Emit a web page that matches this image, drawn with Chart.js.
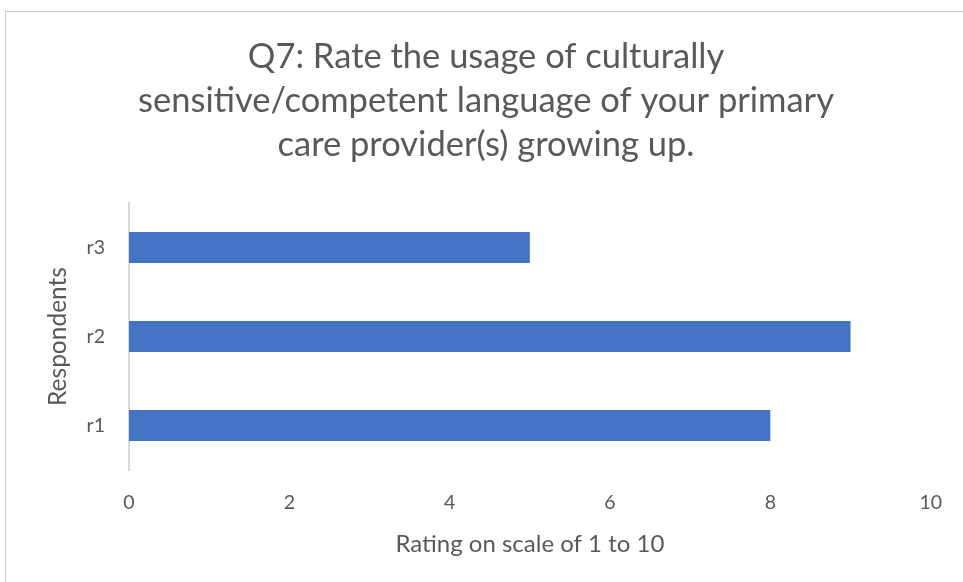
<!DOCTYPE html>
<html>
<head>
<meta charset="utf-8">
<script src="https://cdn.jsdelivr.net/npm/chart.js@4"></script>
<style>
  html, body { margin: 0; padding: 0; background: #fff; }
  #wrap { position: relative; width: 963px; height: 582px; overflow: hidden; }
  #frame { position: absolute; left: 5px; top: 11px; width: 980px; height: 600px;
           border-left: 1px solid #c8c8c8; border-top: 1px solid #c8c8c8; }
  canvas { position: absolute; left: 0; top: 0; }
</style>
</head>
<body>
<div id="wrap">
  <div id="frame"></div>
  <canvas id="chart" width="963" height="582"></canvas>
</div>
<script>
// ── Data ──────────────────────────────────────────────────────
const respondents = ['r3', 'r2', 'r1'];
const ratings     = [5, 9, 8];
const titleLines  = [
    'Q7: Rate the usage of culturally',
    'sensitive/competent language of your primary',
    'care provider(s) growing up.'
];

const FONT = "Lato, 'Open Sans', sans-serif";
const GREY = '#595959';

new Chart(document.getElementById('chart'), {
    type: 'bar',
    data: {
        labels: respondents,
        datasets: [{
            data: ratings,
            backgroundColor: '#4472C4',
            categoryPercentage: 1,
            barPercentage: 0.35,
        }],
    },
    options: {
        indexAxis: 'y',
        responsive: false,
        animation: false,
        layout: { padding: { left: 40, right: 31, top: 13, bottom: 22 } },
        plugins: {
            legend: { display: false },
            tooltip: { enabled: false },
            title: {
                display: true,
                text: titleLines,
                color: GREY,
                font: { family: FONT, size: 34.5, weight: 'normal', lineHeight: 44 / 34.5 },
                padding: { top: 22, bottom: 36 },
            },
        },
        scales: {
            x: {
                min: 0, max: 10,
                ticks: { stepSize: 2, color: GREY, padding: 21, font: { family: FONT, size: 19.5 } },
                grid: { display: false, drawTicks: false },
                border: { display: false },
                title: {
                    display: true, text: 'Rating on scale of 1 to 10', color: GREY,
                    font: { family: FONT, size: 24 }, padding: { top: 0, bottom: 1 },
                },
                afterFit: s => { s.height = 90; },
            },
            y: {
                ticks: { color: GREY, padding: 24, font: { family: FONT, size: 19.5 } },
                grid: { display: false, drawTicks: false },
                border: { display: true, color: '#d9d9d9', width: 2 },
                title: {
                    display: true, text: 'Respondents', color: GREY,
                    font: { family: FONT, size: 24.5 }, padding: { top: 3, bottom: 0 },
                },
                afterFit: s => { s.width = 89; },
            },
        },
    },
});
</script>
</body>
</html>
